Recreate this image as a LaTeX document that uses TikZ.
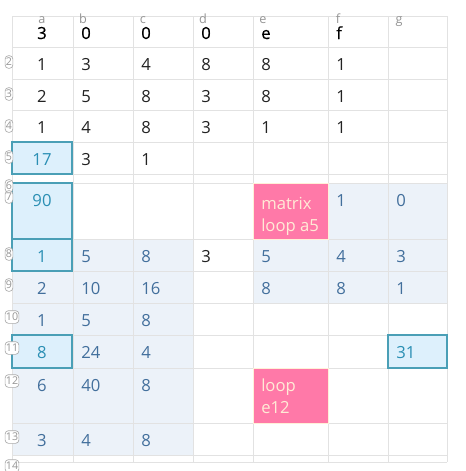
\documentclass[tikz,border=0pt]{standalone}
\usepackage{fontspec}
\setmainfont{Open Sans}
\newfontfamily\headfont[FakeBold=0.6]{Open Sans}
\definecolor{gridc}{HTML}{E2E2E2}
\definecolor{shade}{HTML}{ECF2F9}
\definecolor{shtext}{HTML}{426F9C}
\definecolor{hlfill}{HTML}{DDF0FC}
\definecolor{hlborder}{HTML}{4A9FB6}
\definecolor{hltext}{HTML}{2A8FB4}
\definecolor{pinkfill}{HTML}{FF79A8}
\definecolor{pinkborder}{HTML}{FFF0D8}
\definecolor{pinktext}{HTML}{FFEBD6}
\definecolor{blk}{HTML}{222222}
\definecolor{lbl}{HTML}{959595}
\tikzset{
  gridline/.style={draw=gridc, line width=0.75pt},
  shadebox/.style={fill=shade},
  hlbox/.style={fill=hlfill, draw=hlborder, line width=1.5pt},
  pinkbox/.style={fill=pinkfill, draw=pinkborder, line width=0.75pt},
  val/.style={anchor=base west, inner sep=0pt, text=blk, font=\fontsize{12.5}{15}\selectfont},
  cval/.style={val, anchor=base},
  sval/.style={val, text=shtext},
  csval/.style={sval, anchor=base},
  hval/.style={val, anchor=base, text=hltext},
  head/.style={val, text=black, font=\fontsize{12.5}{15}\headfont},
  chead/.style={head, anchor=base},
  colletter/.style={anchor=base, inner sep=0pt, text=lbl, font=\fontsize{9.5}{11}\selectfont},
  rowlbl/.style={draw=lbl!80, rounded corners=2.5pt, line width=0.5pt, inner sep=0.6pt, text=lbl,
    minimum height=9.5pt, font=\fontsize{8}{9}\selectfont, fill=white},
  pinktxt/.style={anchor=base west, inner sep=0pt, text=pinktext, font=\fontsize{12.5}{16.5}\selectfont, align=left}
}
\begin{document}
\begin{tikzpicture}[x=0.75pt,y=-0.75pt]
\useasboundingbox (0,0) rectangle (466,471);
\fill[white] (0,0) rectangle (466,471);
% shaded regions
\path[shadebox] (12,239) rectangle (193,455);
\path[shadebox] (253,183) rectangle (447,303);
% grid
\foreach \gx in {12,73,133,193,253,328,388,447}
  \draw[gridline] (\gx,16) -- (\gx,462);
\foreach \gy in {16,47,79,110,142,174,183,239,271,303,335,368,423,455,462}
  \draw[gridline] (12,\gy) -- (447,\gy);
% highlight boxes
\path[hlbox] (12,142) rectangle (72,174);
\path[hlbox] (12,183) rectangle (72,239);
\path[hlbox] (12,239) rectangle (72,271);
\path[hlbox] (12,335) rectangle (72,368);
\path[hlbox] (388,335) rectangle (447,368);
% pink boxes
\path[pinkbox] (253,183) rectangle (328,239);
\path[pinkbox] (253,368) rectangle (328,423);
% column letters
\node[colletter] (la) at (42,23) {a};
\node[colletter] (lb) at (83,23) {b};
\node[colletter] (lc) at (143,23) {c};
\node[colletter] (ld) at (203,23) {d};
\node[colletter] (le) at (263,23) {e};
\node[colletter] (lf) at (338,23) {f};
\node[colletter] (lg) at (399,23) {g};
% row labels
\node[rowlbl] (r2) at (9,62) {2};
\node[rowlbl] (r3) at (9,94) {3};
\node[rowlbl] (r4) at (9,126) {4};
\node[rowlbl] (r5) at (9,157) {5};
\node[rowlbl] (r6) at (9,186) {6};
\node[rowlbl] (r7) at (9,197) {7};
\node[rowlbl] (r8) at (9,254) {8};
\node[rowlbl] (r9) at (9,285) {9};
\node[rowlbl] (r10) at (12,317) {10};
\node[rowlbl] (r11) at (12,348) {11};
\node[rowlbl] (r12) at (12,381) {12};
\node[rowlbl] (r13) at (12,437) {13};
\node[rowlbl] (r14) at (12,466) {14};
% row 1 header
\node[chead] (a1) at (42,39) {3};
\node[head] (b1) at (81,39) {0};
\node[head] (c1) at (141,39) {0};
\node[head] (d1) at (201,39) {0};
\node[head] (e1) at (261,39) {e};
\node[head] (f1) at (336,39) {f};
% row 2
\node[cval] (a2) at (42,70.5) {1};
\node[val] (b2) at (81,70.5) {3};
\node[val] (c2) at (141,70.5) {4};
\node[val] (d2) at (201,70.5) {8};
\node[val] (e2) at (261,70.5) {8};
\node[val] (f2) at (336,70.5) {1};
% row 3
\node[cval] (a3) at (42,102) {2};
\node[val] (b3) at (81,102) {5};
\node[val] (c3) at (141,102) {8};
\node[val] (d3) at (201,102) {3};
\node[val] (e3) at (261,102) {8};
\node[val] (f3) at (336,102) {1};
% row 4
\node[cval] (a4) at (42,133.5) {1};
\node[val] (b4) at (81,133.5) {4};
\node[val] (c4) at (141,133.5) {8};
\node[val] (d4) at (201,133.5) {3};
\node[val] (e4) at (261,133.5) {1};
\node[val] (f4) at (336,133.5) {1};
% row 5
\node[hval] (a5) at (42,165.5) {17};
\node[val] (b5) at (81,165.5) {3};
\node[val] (c5) at (141,165.5) {1};
% row 7
\node[hval] (a7) at (42,206.5) {90};
\node[pinktxt] (e7) at (261,231) {matrix\\loop a5};
\node[sval] (f7) at (336,206.5) {1};
\node[sval] (g7) at (396,206.5) {0};
% row 8
\node[hval] (a8) at (42,262.5) {1};
\node[sval] (b8) at (81,262.5) {5};
\node[sval] (c8) at (141,262.5) {8};
\node[val] (d8) at (201,262.5) {3};
\node[sval] (e8) at (261,262.5) {5};
\node[sval] (f8) at (336,262.5) {4};
\node[sval] (g8) at (396,262.5) {3};
% row 9
\node[csval] (a9) at (42,294.5) {2};
\node[sval] (b9) at (81,294.5) {10};
\node[sval] (c9) at (141,294.5) {16};
\node[sval] (e9) at (261,294.5) {8};
\node[sval] (f9) at (336,294.5) {8};
\node[sval] (g9) at (396,294.5) {1};
% row 10
\node[csval] (a10) at (42,326.5) {1};
\node[sval] (b10) at (81,326.5) {5};
\node[sval] (c10) at (141,326.5) {8};
% row 11
\node[hval] (a11) at (42,358.5) {8};
\node[sval] (b11) at (81,358.5) {24};
\node[sval] (c11) at (141,358.5) {4};
\node[val, text=hltext] (g11) at (396,358.5) {31};
% row 12
\node[csval] (a12) at (42,391.5) {6};
\node[sval] (b12) at (81,391.5) {40};
\node[sval] (c12) at (141,391.5) {8};
\node[pinktxt] (e12) at (261,413) {loop\\e12};
% row 13
\node[csval] (a13) at (42,446.5) {3};
\node[sval] (b13) at (81,446.5) {4};
\node[sval] (c13) at (141,446.5) {8};
\end{tikzpicture}
\end{document}
